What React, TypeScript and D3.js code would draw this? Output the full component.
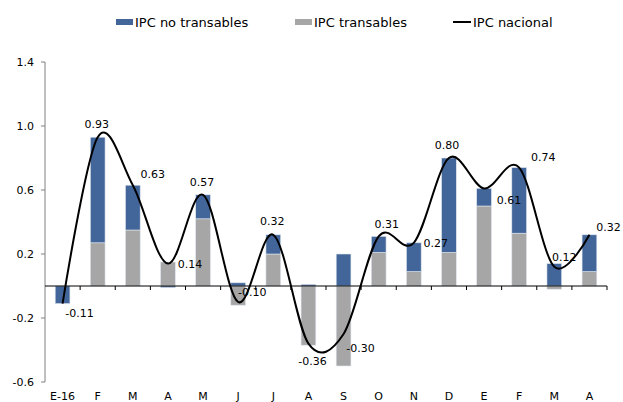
import React from "react";
import * as d3 from "d3";

const months = ["E-16", "F", "M", "A", "M", "J", "J", "A", "S", "O", "N", "D", "E", "F", "M", "A"];
const noTransables = [-0.11, 0.66, 0.28, -0.01, 0.15, 0.02, 0.12, 0.01, 0.2, 0.1, 0.18, 0.59, 0.11, 0.41, 0.14, 0.23];
const transables = [0, 0.27, 0.35, 0.15, 0.42, -0.12, 0.2, -0.37, -0.5, 0.21, 0.09, 0.21, 0.5, 0.33, -0.02, 0.09];
const nacional = [-0.11, 0.93, 0.63, 0.14, 0.57, -0.1, 0.32, -0.36, -0.3, 0.31, 0.27, 0.8, 0.61, 0.74, 0.12, 0.32];
const yTicks = [-0.6, -0.2, 0.2, 0.6, 1.0, 1.4];

// label offsets relative to the point (dx, dy)
const labelOffset: [number, number][] = [
  [17, 13], [-1, -9], [20, -7], [22, 4], [-1, -9], [14, -6], [-1, -10], [4, 21],
  [17, 18], [8, -8], [22, 4], [-2, -9], [25, 16], [24, -7], [10, -6], [19, -4],
];

const W = 623;
const H = 402;
const left = 45;
const right = 607;
const top = 62;
const bottom = 382;
const blue = "#43669a";
const gray = "#a6a6a6";
const font = "DejaVu Sans, Verdana, sans-serif";

export default function App() {
  const x = d3.scaleBand<number>().domain(months.map((_, i) => i)).range([left, right]).padding(0);
  const y = d3.scaleLinear().domain([-0.6, 1.4]).range([bottom, top]);
  const barW = x.bandwidth() * 0.42;
  const cx = (i: number) => (x(i) as number) + x.bandwidth() / 2;

  const rows = months.map((_, i) => ({ t: transables[i], nt: noTransables[i] }));
  const series = d3
    .stack<{ t: number; nt: number }>()
    .keys(["t", "nt"])
    .offset(d3.stackOffsetDiverging)(rows as any);
  const colors = [gray, blue];

  const line = d3
    .line<number>()
    .x((_, i) => cx(i))
    .y((d) => y(d))
    .curve(d3.curveCardinal.tension(0));

  return (
    <svg width={W} height={H} style={{ position: "absolute", left: 0, top: 0, background: "#fff" }} fontFamily={font}>
      {/* legend */}
      <g fontSize={13} fill="#000">
        <rect x={116} y={19} width={17} height={6} fill={blue} />
        <text x={135} y={27}>IPC no transables</text>
        <rect x={295} y={19} width={17} height={6} fill={gray} />
        <text x={314} y={27}>IPC transables</text>
        <line x1={453} x2={471} y1={22} y2={22} stroke="#000" strokeWidth={2} />
        <text x={473} y={27}>IPC nacional</text>
      </g>

      {/* bars */}
      {series.map((s, k) =>
        s.map((d, i) => {
          const y0 = y(d[0]);
          const y1 = y(d[1]);
          if (Math.abs(y0 - y1) < 0.01) return null;
          return (
            <rect
              key={`${k}-${i}`}
              x={cx(i) - barW / 2}
              y={Math.min(y0, y1)}
              width={barW}
              height={Math.abs(y0 - y1)}
              fill={colors[k]}
              stroke="#dfe6ef"
              strokeWidth={0.6}
            />
          );
        })
      )}

      {/* y axis */}
      <line x1={left} x2={left} y1={top} y2={bottom} stroke="#808080" strokeWidth={1} />
      {yTicks.map((t) => (
        <g key={t}>
          <line x1={left - 4} x2={left} y1={y(t)} y2={y(t)} stroke="#808080" />
          <text x={34} y={y(t) + 4} textAnchor="end" fontSize={11} fill="#000">
            {t.toFixed(1)}
          </text>
        </g>
      ))}

      {/* x axis at zero */}
      <line x1={left} x2={right} y1={y(0)} y2={y(0)} stroke="#000" strokeWidth={1} />
      {months.map((_, i) => (
        <line key={i} x1={(x(i) as number) + x.bandwidth()} x2={(x(i) as number) + x.bandwidth()} y1={y(0)} y2={y(0) + 4} stroke="#000" />
      ))}
      {months.map((m, i) => (
        <text key={i} x={cx(i)} y={400} textAnchor="middle" fontSize={11} fill="#000">
          {m}
        </text>
      ))}

      {/* national line */}
      <path d={line(nacional) || ""} fill="none" stroke="#000" strokeWidth={2} />

      {nacional.map((v, i) => (
        <text
          key={i}
          x={cx(i) + labelOffset[i][0]}
          y={y(v) + labelOffset[i][1]}
          textAnchor="middle"
          fontSize={11}
          fill="#000"
        >
          {v.toFixed(2)}
        </text>
      ))}
    </svg>
  );
}
